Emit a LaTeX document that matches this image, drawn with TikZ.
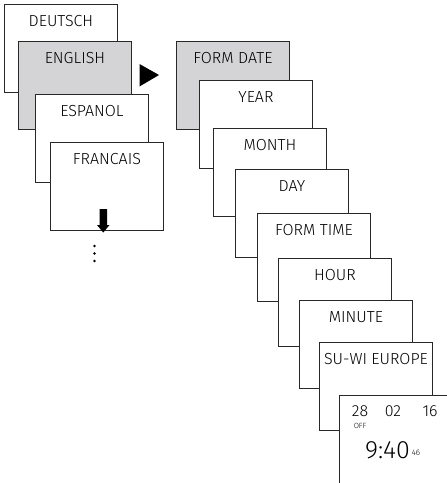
\documentclass[tikz,border=0pt]{standalone}
\usepackage{fontspec}
\setmainfont{Fira Sans Light}
\definecolor{selgray}{RGB}{212,212,214}
\definecolor{edge}{RGB}{40,40,40}
\begin{document}
\begin{tikzpicture}[x=1pt,y=-1pt,
  scr/.style={draw=edge, line width=0.9pt, fill=white, anchor=north west,
    minimum width=113pt, minimum height=88pt, inner sep=0pt},
  sel/.style={scr, fill=selgray},
  lbl/.style={inner sep=0pt, anchor=center, yshift=-17.5pt, font=\fontsize{16}{16}\selectfont},
  small/.style={inner sep=0pt, anchor=center}]
\useasboundingbox (0,0) rectangle (447,483);
% left column
\node[scr] (deu) at (4,4) {};
\node[lbl] (deut) at (deu.north) {DEUTSCH};
\node[sel] (eng) at (18,41) {};
\node[lbl] (engt) at (eng.north) {ENGLISH};
\node[scr] (esp) at (35,94) {};
\node[lbl] (espt) at (esp.north) {ESPANOL};
\node[scr] (fra) at (50,142) {};
\node[lbl] (frat) at (fra.north) {FRANCAIS};
% down arrow
\fill[black] (99.5,209) -- (107,209) -- (107,225) -- (109.5,225) -- (103.25,232.5)
  -- (97,225) -- (99.5,225) -- cycle;
% dots
\foreach \yy in {246,253.5,261} \fill (94.5,\yy) circle (1.3);
% right arrow
\fill[black] (139.5,64) -- (159,75) -- (139.5,86.5) -- cycle;
% right column
\node[sel] (fdate) at (176,41) {};
\node[lbl] (fdatet) at (fdate.north) {FORM DATE};
\node[scr] (year) at (199,80) {};
\node[lbl] (yeart) at (year.north) {YEAR};
\node[scr] (month) at (213,128) {};
\node[lbl] (montht) at (month.north) {MONTH};
\node[scr] (day) at (235,169) {};
\node[lbl] (dayt) at (day.north) {DAY};
\node[scr] (ftime) at (257,213) {};
\node[lbl] (ftimet) at (ftime.north) {FORM TIME};
\node[scr] (hour) at (278,258) {};
\node[lbl] (hourt) at (hour.north) {HOUR};
\node[scr] (minute) at (299,300) {};
\node[lbl] (minutet) at (minute.north) {MINUTE};
\node[scr] (suwi) at (319,342) {};
\node[lbl] (suwit) at (suwi.north) {SU-WI EUROPE};
\node[scr] (disp) at (339,395) {};
% display contents
\node[small, font=\fontsize{16}{16}\selectfont] (dd) at (360,411.5) {28};
\node[small, font=\fontsize{16}{16}\selectfont] (mm) at (393,411.5) {02};
\node[small, font=\fontsize{16}{16}\selectfont] (yy) at (430,411.5) {16};
\node[small, font=\fontsize{7.5}{7.5}\selectfont] (off) at (360,425.5) {OFF};
\node[small, font=\fontsize{25}{25}\selectfont] (clock) at (387.5,450) {9:40};
\node[small, font=\fontsize{8}{8}\selectfont, anchor=west] (sec) at ([xshift=1.5pt]clock.east |- 0,453) {46};
\end{tikzpicture}
\end{document}
